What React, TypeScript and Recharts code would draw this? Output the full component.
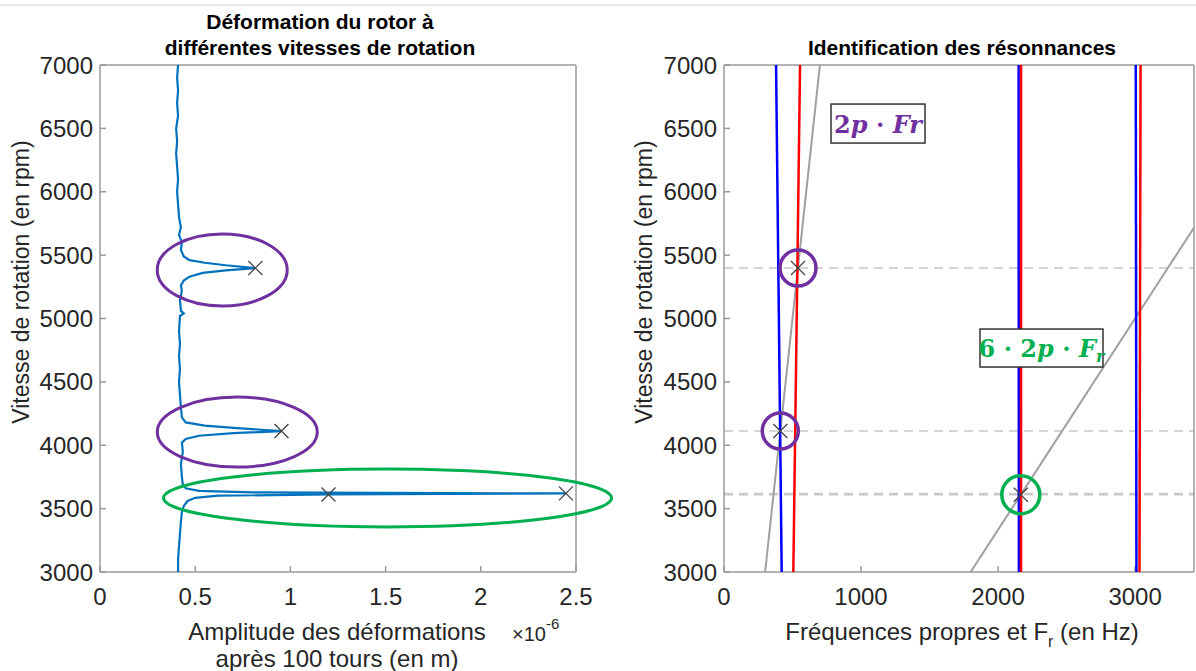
import React from "react";
import {
  ComposedChart,
  Scatter,
  XAxis,
  YAxis,
  ReferenceLine,
  ReferenceDot,
} from "recharts";

// ticks
const rpmTicks = [3000, 3500, 4000, 4500, 5000, 5500, 6000, 6500, 7000];
const ampTicks = [0, 0.5, 1, 1.5, 2, 2.5];
const freqTicks = [0, 1000, 2000, 3000];

// rotor deformation amplitude (x1e-6 m) over the speed sweep
const deformation = [
  { rpm: 7000, amp: 0.41 },
  { rpm: 6900, amp: 0.405 },
  { rpm: 6800, amp: 0.41 },
  { rpm: 6700, amp: 0.405 },
  { rpm: 6600, amp: 0.41 },
  { rpm: 6500, amp: 0.4 },
  { rpm: 6400, amp: 0.405 },
  { rpm: 6300, amp: 0.4 },
  { rpm: 6200, amp: 0.405 },
  { rpm: 6100, amp: 0.41 },
  { rpm: 6000, amp: 0.405 },
  { rpm: 5900, amp: 0.41 },
  { rpm: 5800, amp: 0.415 },
  { rpm: 5720, amp: 0.425 },
  { rpm: 5660, amp: 0.415 },
  { rpm: 5600, amp: 0.43 },
  { rpm: 5540, amp: 0.425 },
  { rpm: 5490, amp: 0.44 },
  { rpm: 5460, amp: 0.47 },
  { rpm: 5440, amp: 0.55 },
  { rpm: 5420, amp: 0.66 },
  { rpm: 5398, amp: 0.816 },
  { rpm: 5380, amp: 0.66 },
  { rpm: 5360, amp: 0.54 },
  { rpm: 5330, amp: 0.47 },
  { rpm: 5300, amp: 0.44 },
  { rpm: 5260, amp: 0.425 },
  { rpm: 5220, amp: 0.43 },
  { rpm: 5150, amp: 0.42 },
  { rpm: 5060, amp: 0.425 },
  { rpm: 5040, amp: 0.44 },
  { rpm: 5020, amp: 0.42 },
  { rpm: 4900, amp: 0.415 },
  { rpm: 4800, amp: 0.42 },
  { rpm: 4700, amp: 0.415 },
  { rpm: 4600, amp: 0.42 },
  { rpm: 4500, amp: 0.415 },
  { rpm: 4400, amp: 0.42 },
  { rpm: 4300, amp: 0.425 },
  { rpm: 4220, amp: 0.43 },
  { rpm: 4180, amp: 0.45 },
  { rpm: 4155, amp: 0.55 },
  { rpm: 4135, amp: 0.72 },
  { rpm: 4112, amp: 0.953 },
  { rpm: 4095, amp: 0.7 },
  { rpm: 4075, amp: 0.52 },
  { rpm: 4050, amp: 0.45 },
  { rpm: 4020, amp: 0.43 },
  { rpm: 3950, amp: 0.435 },
  { rpm: 3850, amp: 0.425 },
  { rpm: 3750, amp: 0.43 },
  { rpm: 3690, amp: 0.435 },
  { rpm: 3660, amp: 0.45 },
  { rpm: 3640, amp: 0.52 },
  { rpm: 3628, amp: 0.8 },
  { rpm: 3620, amp: 2.447 },
  { rpm: 3612, amp: 1.2 },
  { rpm: 3602, amp: 0.62 },
  { rpm: 3585, amp: 0.5 },
  { rpm: 3560, amp: 0.46 },
  { rpm: 3520, amp: 0.44 },
  { rpm: 3470, amp: 0.43 },
  { rpm: 3400, amp: 0.425 },
  { rpm: 3300, amp: 0.42 },
  { rpm: 3200, amp: 0.415 },
  { rpm: 3100, amp: 0.41 },
  { rpm: 3000, amp: 0.41 },
];

const peaks = [
  { rpm: 5398, amp: 0.816 },
  { rpm: 4112, amp: 0.953 },
  { rpm: 3612, amp: 1.2 },
  { rpm: 3620, amp: 2.447 },
];

// highlighted zones on the left plot (centre in data units)
const zonesLeft = [
  { rpm: 5383, amp: 0.642, kind: "purple", rx: 65, ry: 36 },
  { rpm: 4104, amp: 0.721, kind: "purple", rx: 80, ry: 35 },
  { rpm: 3584, amp: 1.51, kind: "green", rx: 224, ry: 29 },
];

// natural frequencies (Hz) at 7000 and 3000 rpm
const modesBlue = [
  [{ f: 380, rpm: 7000 }, { f: 421, rpm: 3000 }],
  [{ f: 2150, rpm: 7000 }, { f: 2152, rpm: 3000 }],
  [{ f: 3005, rpm: 7000 }, { f: 3010, rpm: 3000 }],
];
const modesRed = [
  [{ f: 555, rpm: 7000 }, { f: 506, rpm: 3000 }],
  [{ f: 2168, rpm: 7000 }, { f: 2168, rpm: 3000 }],
  [{ f: 3040, rpm: 7000 }, { f: 3032, rpm: 3000 }],
];
// excitation lines 2p*Fr and 6*2p*Fr
const excit1 = [{ f: 300, rpm: 3000 }, { f: 700, rpm: 7000 }];
const excit6 = [{ f: 1800, rpm: 3000 }, { f: 4200, rpm: 7000 }];

const resonanceRpm = [5398, 4112, 3610, 3620];
const crossings = [
  { f: 540, rpm: 5398, kind: "purple" },
  { f: 411, rpm: 4112, kind: "purple" },
  { f: 2166, rpm: 3610, kind: "green" },
];

const FONT = '"Liberation Sans", Arial, Helvetica, sans-serif';
const AXIS = "#9a9a9a";
const TXT = "#262626";
const PURPLE = "#7030A0";
const GREEN = "#00B050";
const colorOf = (k: string) => (k === "green" ? GREEN : PURPLE);

const Cross = (p: any) => (
  <path
    d={`M${p.cx - 7},${p.cy - 7}L${p.cx + 7},${p.cy + 7}M${p.cx - 7},${p.cy + 7}L${p.cx + 7},${p.cy - 7}`}
    stroke="#444"
    strokeWidth={1.3}
    fill="none"
  />
);
const NoDot = () => null;

const tickStyle = { fill: TXT, fontSize: 24, fontFamily: FONT };

function LeftChart() {
  return (
    <ComposedChart
      width={624}
      height={671}
      margin={{ top: 65, right: 48, bottom: 69, left: 40 }}
    >
      <XAxis
        type="number"
        dataKey="amp"
        domain={[0, 2.5]}
        ticks={ampTicks}
        interval={0}
        allowDataOverflow
        height={30}
        stroke={AXIS}
        strokeWidth={1.5}
        tickSize={-6}
        tickMargin={22}
        tick={tickStyle}
      />
      <XAxis
        xAxisId="top"
        orientation="top"
        mirror
        type="number"
        domain={[0, 2.5]}
        ticks={ampTicks}
        interval={0}
        allowDataOverflow
        stroke={AXIS}
        strokeWidth={1.5}
        tickSize={6}
        tick={false}
      />
      <YAxis
        type="number"
        dataKey="rpm"
        domain={[3000, 7000]}
        ticks={rpmTicks}
        interval={0}
        allowDataOverflow
        width={60}
        stroke={AXIS}
        strokeWidth={1.5}
        tickSize={-6}
        tickMargin={13}
        tick={tickStyle}
      />
      <YAxis
        yAxisId="right"
        orientation="right"
        mirror
        type="number"
        domain={[3000, 7000]}
        ticks={rpmTicks}
        interval={0}
        allowDataOverflow
        stroke={AXIS}
        strokeWidth={1.5}
        tickSize={6}
        tick={false}
      />
      <Scatter
        data={deformation}
        line={{ stroke: "#0072BD", strokeWidth: 2.2 }}
        shape={NoDot}
        isAnimationActive={false}
      />
      <Scatter data={peaks} shape={Cross} isAnimationActive={false} />
      {zonesLeft.map((z, i) => (
        <ReferenceDot
          key={i}
          x={z.amp}
          y={z.rpm}
          r={1}
          ifOverflow="visible"
          shape={(p: any) => (
            <ellipse
              cx={p.cx}
              cy={p.cy}
              rx={z.rx}
              ry={z.ry}
              fill="none"
              stroke={colorOf(z.kind)}
              strokeWidth={3}
            />
          )}
        />
      ))}
    </ComposedChart>
  );
}

function RightChart() {
  return (
    <ComposedChart
      width={572}
      height={671}
      margin={{ top: 65, right: 2, bottom: 69, left: 40 }}
    >
      <XAxis
        type="number"
        dataKey="f"
        domain={[0, 3430]}
        ticks={freqTicks}
        interval={0}
        allowDataOverflow
        height={30}
        stroke={AXIS}
        strokeWidth={1.5}
        tickSize={-6}
        tickMargin={22}
        tick={tickStyle}
      />
      <XAxis
        xAxisId="top"
        orientation="top"
        mirror
        type="number"
        domain={[0, 3430]}
        ticks={freqTicks}
        interval={0}
        allowDataOverflow
        stroke={AXIS}
        strokeWidth={1.5}
        tickSize={6}
        tick={false}
      />
      <YAxis
        type="number"
        dataKey="rpm"
        domain={[3000, 7000]}
        ticks={rpmTicks}
        interval={0}
        allowDataOverflow
        width={60}
        stroke={AXIS}
        strokeWidth={1.5}
        tickSize={-6}
        tickMargin={13}
        tick={tickStyle}
      />
      <YAxis
        yAxisId="right"
        orientation="right"
        mirror
        type="number"
        domain={[3000, 7000]}
        ticks={rpmTicks}
        interval={0}
        allowDataOverflow
        stroke={AXIS}
        strokeWidth={1.5}
        tickSize={6}
        tick={false}
      />
      {resonanceRpm.map((r) => (
        <ReferenceLine
          key={r}
          y={r}
          stroke="#c8c8c8"
          strokeWidth={1.5}
          strokeDasharray="9 6"
        />
      ))}
      <Scatter
        data={excit1}
        line={{ stroke: "#a0a0a0", strokeWidth: 2 }}
        shape={NoDot}
        isAnimationActive={false}
      />
      <Scatter
        data={excit6}
        line={{ stroke: "#a0a0a0", strokeWidth: 2 }}
        shape={NoDot}
        isAnimationActive={false}
      />
      {modesBlue.map((m, i) => (
        <Scatter
          key={"b" + i}
          data={m}
          line={{ stroke: "#0000FF", strokeWidth: 2.5 }}
          shape={NoDot}
          isAnimationActive={false}
        />
      ))}
      {modesRed.map((m, i) => (
        <Scatter
          key={"r" + i}
          data={m}
          line={{ stroke: "#FF0000", strokeWidth: 2.5 }}
          shape={NoDot}
          isAnimationActive={false}
        />
      ))}
      <Scatter data={crossings} shape={Cross} isAnimationActive={false} />
      {crossings.map((c, i) => (
        <ReferenceDot
          key={i}
          x={c.f}
          y={c.rpm}
          r={c.kind === "green" ? 19 : 18}
          fill="none"
          stroke={colorOf(c.kind)}
          strokeWidth={3.5}
          ifOverflow="visible"
        />
      ))}
      <ReferenceDot
        x={1124}
        y={6538}
        r={1}
        ifOverflow="visible"
        shape={(p: any) => (
          <g>
            <rect x={p.cx - 47} y={p.cy - 19.5} width={94} height={39} fill="#fff" stroke="#333" strokeWidth={1.5} />
            <text
              x={p.cx}
              y={p.cy + 9}
              textAnchor="middle"
              fill={PURPLE}
              fontFamily='"DejaVu Serif", "Liberation Serif", serif'
              fontWeight="bold"
              fontSize={24}
            >
              <tspan>2</tspan>
              <tspan fontStyle="italic">p</tspan>
              <tspan> · </tspan>
              <tspan fontStyle="italic">Fr</tspan>
            </text>
          </g>
        )}
      />
      <ReferenceDot
        x={2317}
        y={4767}
        r={1}
        ifOverflow="visible"
        shape={(p: any) => (
          <g>
            <rect x={p.cx - 61.5} y={p.cy - 19} width={123} height={38} fill="#fff" stroke="#333" strokeWidth={1.5} />
            <text
              x={p.cx}
              y={p.cy + 9}
              textAnchor="middle"
              fill={GREEN}
              fontFamily='"DejaVu Serif", "Liberation Serif", serif'
              fontWeight="bold"
              fontSize={24}
            >
              <tspan>6 · 2</tspan>
              <tspan fontStyle="italic">p</tspan>
              <tspan> · </tspan>
              <tspan fontStyle="italic">F</tspan>
              <tspan fontStyle="italic" fontSize={16} dy={5}>r</tspan>
            </text>
          </g>
        )}
      />
    </ComposedChart>
  );
}

export default function App() {
  return (
    <div
      style={{
        position: "absolute",
        left: 0,
        top: 0,
        width: 1196,
        height: 671,
        background: "#fff",
        overflow: "hidden",
      }}
    >
      <div style={{ position: "absolute", left: 624, top: 0 }}>
        <RightChart />
      </div>
      <div style={{ position: "absolute", left: 0, top: 0 }}>
        <LeftChart />
      </div>
      <svg
        width={1196}
        height={671}
        style={{ position: "absolute", left: 0, top: 0, pointerEvents: "none" }}
        fontFamily={FONT}
      >
        <line x1={0} y1={5} x2={1196} y2={5} stroke="#e2e2e2" strokeWidth={1.5} />
        <g fontWeight="bold" fontSize={21} fill="#000" textAnchor="middle">
          <text x={320} y={29}>Déformation du rotor à</text>
          <text x={320} y={55}>différentes vitesses de rotation</text>
          <text x={962} y={55}>Identification des résonnances</text>
        </g>
        <g fontSize={23} fill={TXT} textAnchor="middle">
          <text transform="translate(29,282) rotate(-90)">Vitesse de rotation (en rpm)</text>
          <text transform="translate(652,282) rotate(-90)">Vitesse de rotation (en rpm)</text>
        </g>
        <g fontSize={24} fill={TXT} textAnchor="middle">
          <text x={337} y={640}>Amplitude des déformations</text>
          <text x={337} y={667}>après 100 tours (en m)</text>
          <text x={962} y={640}>
            Fréquences propres et F
            <tspan fontSize={16} dy={7}>r</tspan>
            <tspan dy={-7}> (en Hz)</tspan>
          </text>
        </g>
        <text x={512} y={641} fontSize={20} fill={TXT}>
          ×10
          <tspan fontSize={15} dy={-12}>-6</tspan>
        </text>
      </svg>
    </div>
  );
}
